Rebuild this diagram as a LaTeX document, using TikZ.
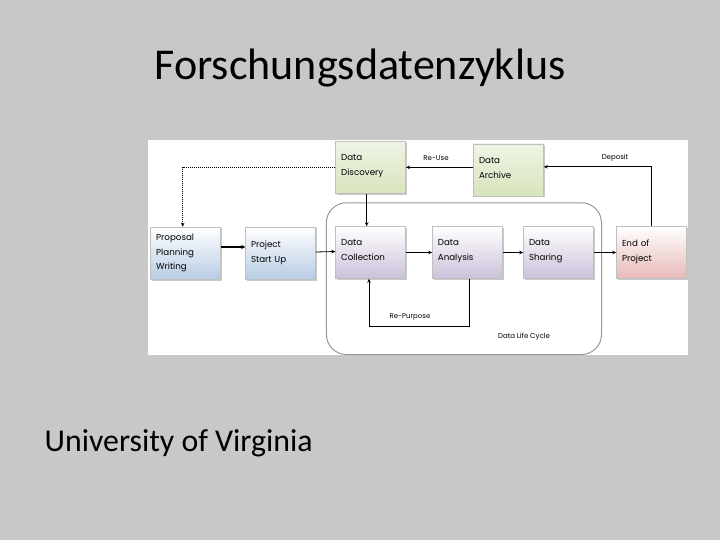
\documentclass[tikz,border=0pt]{standalone}
\usepackage{fontspec}
\setmainfont{Carlito}
\newfontfamily\boxfont{Poppins}
\usetikzlibrary{arrows.meta,shadows}
\definecolor{bgc}{RGB}{200,200,200}
\definecolor{blueC}{RGB}{184,204,228}
\definecolor{greenC}{RGB}{215,228,189}
\definecolor{purpleC}{RGB}{204,192,218}
\definecolor{redC}{RGB}{230,185,184}
\definecolor{frameC}{RGB}{150,150,165}
\begin{document}
\begin{tikzpicture}[x=1pt,y=-1pt,
  stepbox/.style={draw=black!25, line width=0.5pt, minimum width=70pt, minimum height=52pt,
    text width=59pt, align=left, inner sep=0pt,
    font=\boxfont\fontsize{8.7}{14.8}\selectfont,
    drop shadow={shadow xshift=1.5pt, shadow yshift=-1.5pt, opacity=0.35, fill=black!60}},
  blueb/.style={stepbox, top color=white, bottom color=blueC},
  greenb/.style={stepbox, top color=white!60!greenC, bottom color=greenC},
  purpleb/.style={stepbox, top color=white, bottom color=purpleC},
  redb/.style={stepbox, top color=white, bottom color=redC},
  conn/.style={-{Stealth[length=4pt,width=3.5pt]}, line width=0.8pt},
  thickconn/.style={-{Stealth[length=4pt,width=4pt]}, line width=2.2pt},
  dotconn/.style={-{Stealth[length=4pt,width=3.5pt]}, line width=0.9pt, dash pattern=on 1pt off 1pt},
  lbl/.style={font=\boxfont\fontsize{7}{8}\selectfont, inner sep=0pt}]
\useasboundingbox (0,0) rectangle (720,540);
\fill[bgc] (0,0) rectangle (720,540);
% white panel
\fill[white] (148,140) rectangle (688,355);
% title
\node[anchor=base, inner sep=0pt] (title) at (360,80) {\fontsize{44}{46}\selectfont Forschungsdatenzyklus};
\node[anchor=base west, inner sep=0pt] (uva) at (44.5,451.7) {\fontsize{31.8}{34}\selectfont University of Virginia};
% life cycle container
\draw[frameC, line width=1pt, rounded corners=20pt] (326.4,202.8) rectangle (601.5,354.5);
% boxes
\node[blueb] (prop) at (185.7,253) {Proposal\\Planning\\Writing};
\node[blueb] (proj) at (280.5,253) {Project\\Start Up};
\node[purpleb] (coll) at (370.7,252.5) {Data\\Collection\strut};
\node[purpleb] (anal) at (467.4,252.5) {Data\\Analysis\strut};
\node[purpleb] (shar) at (558.5,252.5) {Data\\Sharing\strut};
\node[redb] (endp) at (651.5,252.5) {End of\\Project\strut};
\node[greenb] (disc) at (370.7,167.3) {Data\\Discovery\strut};
\node[greenb] (arch) at (508.5,169.8) {Data\\Archive\strut};
% connectors
\draw[thickconn] ([yshift=6pt]prop.east) -- ([yshift=6pt]proj.west);
\draw[conn] ([yshift=1pt]proj.east) -- ([yshift=1pt]coll.west);
\draw[conn] (coll.east) -- (anal.west);
\draw[conn] (anal.east) -- (shar.west);
\draw[conn] (shar.east) -- (endp.west);
\draw[conn] ([xshift=-4pt]disc.south) -- ([xshift=-4pt]coll.north);
\coordinate (rp) at (369,326.7);
\draw[conn] ([xshift=1.6pt]anal.south) |- (rp) -- ([xshift=-1.7pt]coll.south);
\draw[conn] ([yshift=2.5pt]arch.west) -- (disc.east);
\draw[conn] (endp.north) |- ([yshift=3pt]arch.east);
\draw[dotconn] (disc.west) -| ([xshift=-3pt]prop.north);
% labels
\node[lbl] (lreuse) at (436,158) {Re-Use};
\node[lbl] (ldep) at (615,158) {Deposit};
\node[lbl] (lrp) at (410,317) {Re-Purpose};
\node[lbl] (ldlc) at (524,337) {Data Life Cycle};
\end{tikzpicture}
\end{document}
